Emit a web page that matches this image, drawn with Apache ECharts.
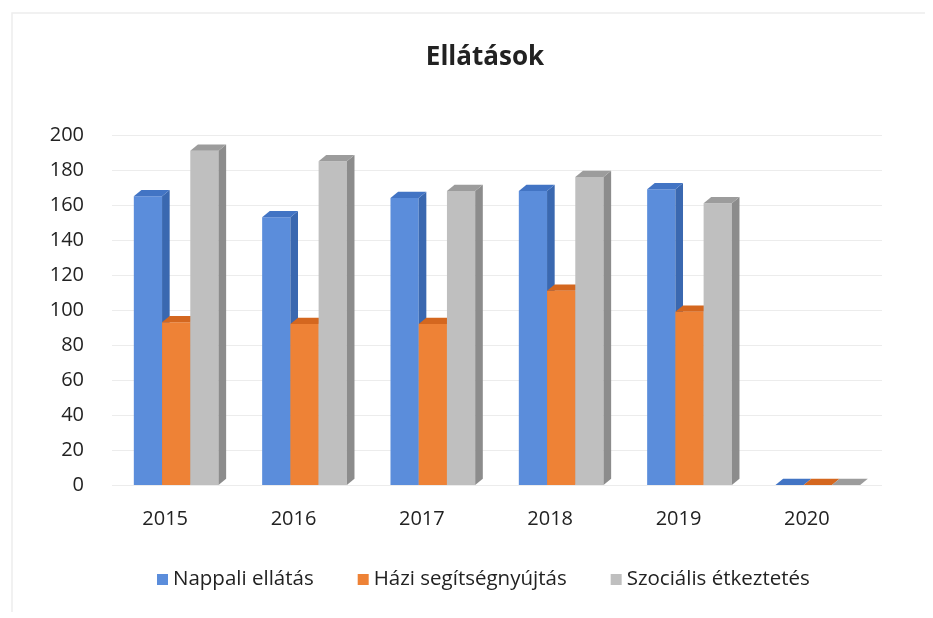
<!DOCTYPE html>
<html>
<head>
<meta charset="utf-8">
<script src="https://cdn.jsdelivr.net/npm/echarts@6/dist/echarts.min.js"></script>
<style>
  html, body { margin: 0; padding: 0; background: #fff; }
  #chart { width: 933px; height: 618px; }
</style>
</head>
<body>
<div id="chart"></div>
<script>
// Years on the category axis
const years = ['2015', '2016', '2017', '2018', '2019', '2020'];

// Number of people served per year, by type of service
const nappali = [165, 153, 164, 168, 169, 0];
const hazi = [93, 92, 92, 111, 99, 0];
const szocialis = [191, 185, 168, 176, 161, 0];

const yTicks = [0, 20, 40, 60, 80, 100, 120, 140, 160, 180, 200];

const seriesNames = ['Nappali ellátás', 'Házi segítségnyújtás', 'Szociális étkeztetés'];
const seriesData = [nappali, hazi, szocialis];

// front / side / top shades for the pseudo-3D columns
const shades = [
  { front: '#5b8ddb', side: '#3a68b0', top: '#4274c4' },
  { front: '#ee8236', side: '#c2601f', top: '#d4671f' },
  { front: '#bfbfbf', side: '#8c8c8c', top: '#9c9c9c' }
];

const FONT = '"Open Sans", sans-serif';
const TEXT = '#222222';

function makeRender(si) {
  return function (params, api) {
    const cat = api.value(0);
    const val = api.value(1);
    const base = api.coord([cat, 0]);
    const top = api.coord([cat, val]);
    const band = api.size([1, 0])[0];
    const w = band * 0.22;
    const x0 = base[0] - 1.5 * w + si * w;
    const dx = w * 0.27, dy = w * 0.22;
    const c = shades[si];
    const h = base[1] - top[1];
    const children = [];
    if (h > 0) {
      children.push({
        type: 'rect',
        shape: { x: x0, y: top[1], width: w, height: h },
        style: { fill: c.front }
      });
    }
    children.push({
      type: 'polygon',
      shape: { points: [[x0 + w, top[1]], [x0 + w + dx, top[1] - dy], [x0 + w + dx, base[1] - dy], [x0 + w, base[1]]] },
      style: { fill: c.side }
    });
    children.push({
      type: 'polygon',
      shape: { points: [[x0, top[1]], [x0 + dx, top[1] - dy], [x0 + w + dx, top[1] - dy], [x0 + w, top[1]]] },
      style: { fill: c.top }
    });
    return { type: 'group', children: children };
  };
}

const chart = echarts.init(document.getElementById('chart'));
chart.setOption({
  backgroundColor: '#ffffff',
  animation: false,
  // faint frame of the chart area
  graphic: [{
    type: 'polyline',
    silent: true,
    shape: { points: [[12, 612], [12, 13], [925, 13]] },
    style: { stroke: '#ededed', lineWidth: 1.5, fill: null }
  }],
  title: {
    text: 'Ellátások',
    left: 480,
    textAlign: 'center',
    top: 40,
    textStyle: { fontFamily: FONT, fontSize: 26, fontWeight: 'bold', color: TEXT }
  },
  legend: {
    top: 564,
    left: 152,
    itemWidth: 11,
    itemHeight: 11,
    itemGap: 44,
    icon: 'rect',
    textStyle: { fontFamily: FONT, fontSize: 20.5, color: TEXT },
    data: seriesNames
  },
  grid: { left: 112, right: 51, top: 135, bottom: 133 },
  xAxis: {
    type: 'category',
    data: years,
    axisLine: { show: false },
    axisTick: { show: false },
    axisLabel: {
      fontFamily: FONT, fontSize: 20, color: TEXT, margin: 24,
      padding: [0, 22, 0, 0]
    }
  },
  yAxis: {
    type: 'value',
    min: 0,
    max: 200,
    interval: 20,
    axisLine: { show: false },
    axisTick: { show: false },
    axisLabel: {
      fontFamily: FONT, fontSize: 20, color: TEXT, margin: 28,
      formatter: v => yTicks.includes(v) ? String(v) : ''
    },
    splitLine: { lineStyle: { color: '#ececec', width: 1 } }
  },
  series: seriesNames.map((name, si) => ({
    name: name,
    type: 'custom',
    itemStyle: { color: shades[si].front },
    renderItem: makeRender(si),
    encode: { x: 0, y: 1 },
    data: years.map((y, i) => [i, seriesData[si][i]])
  }))
});
</script>
</body>
</html>
